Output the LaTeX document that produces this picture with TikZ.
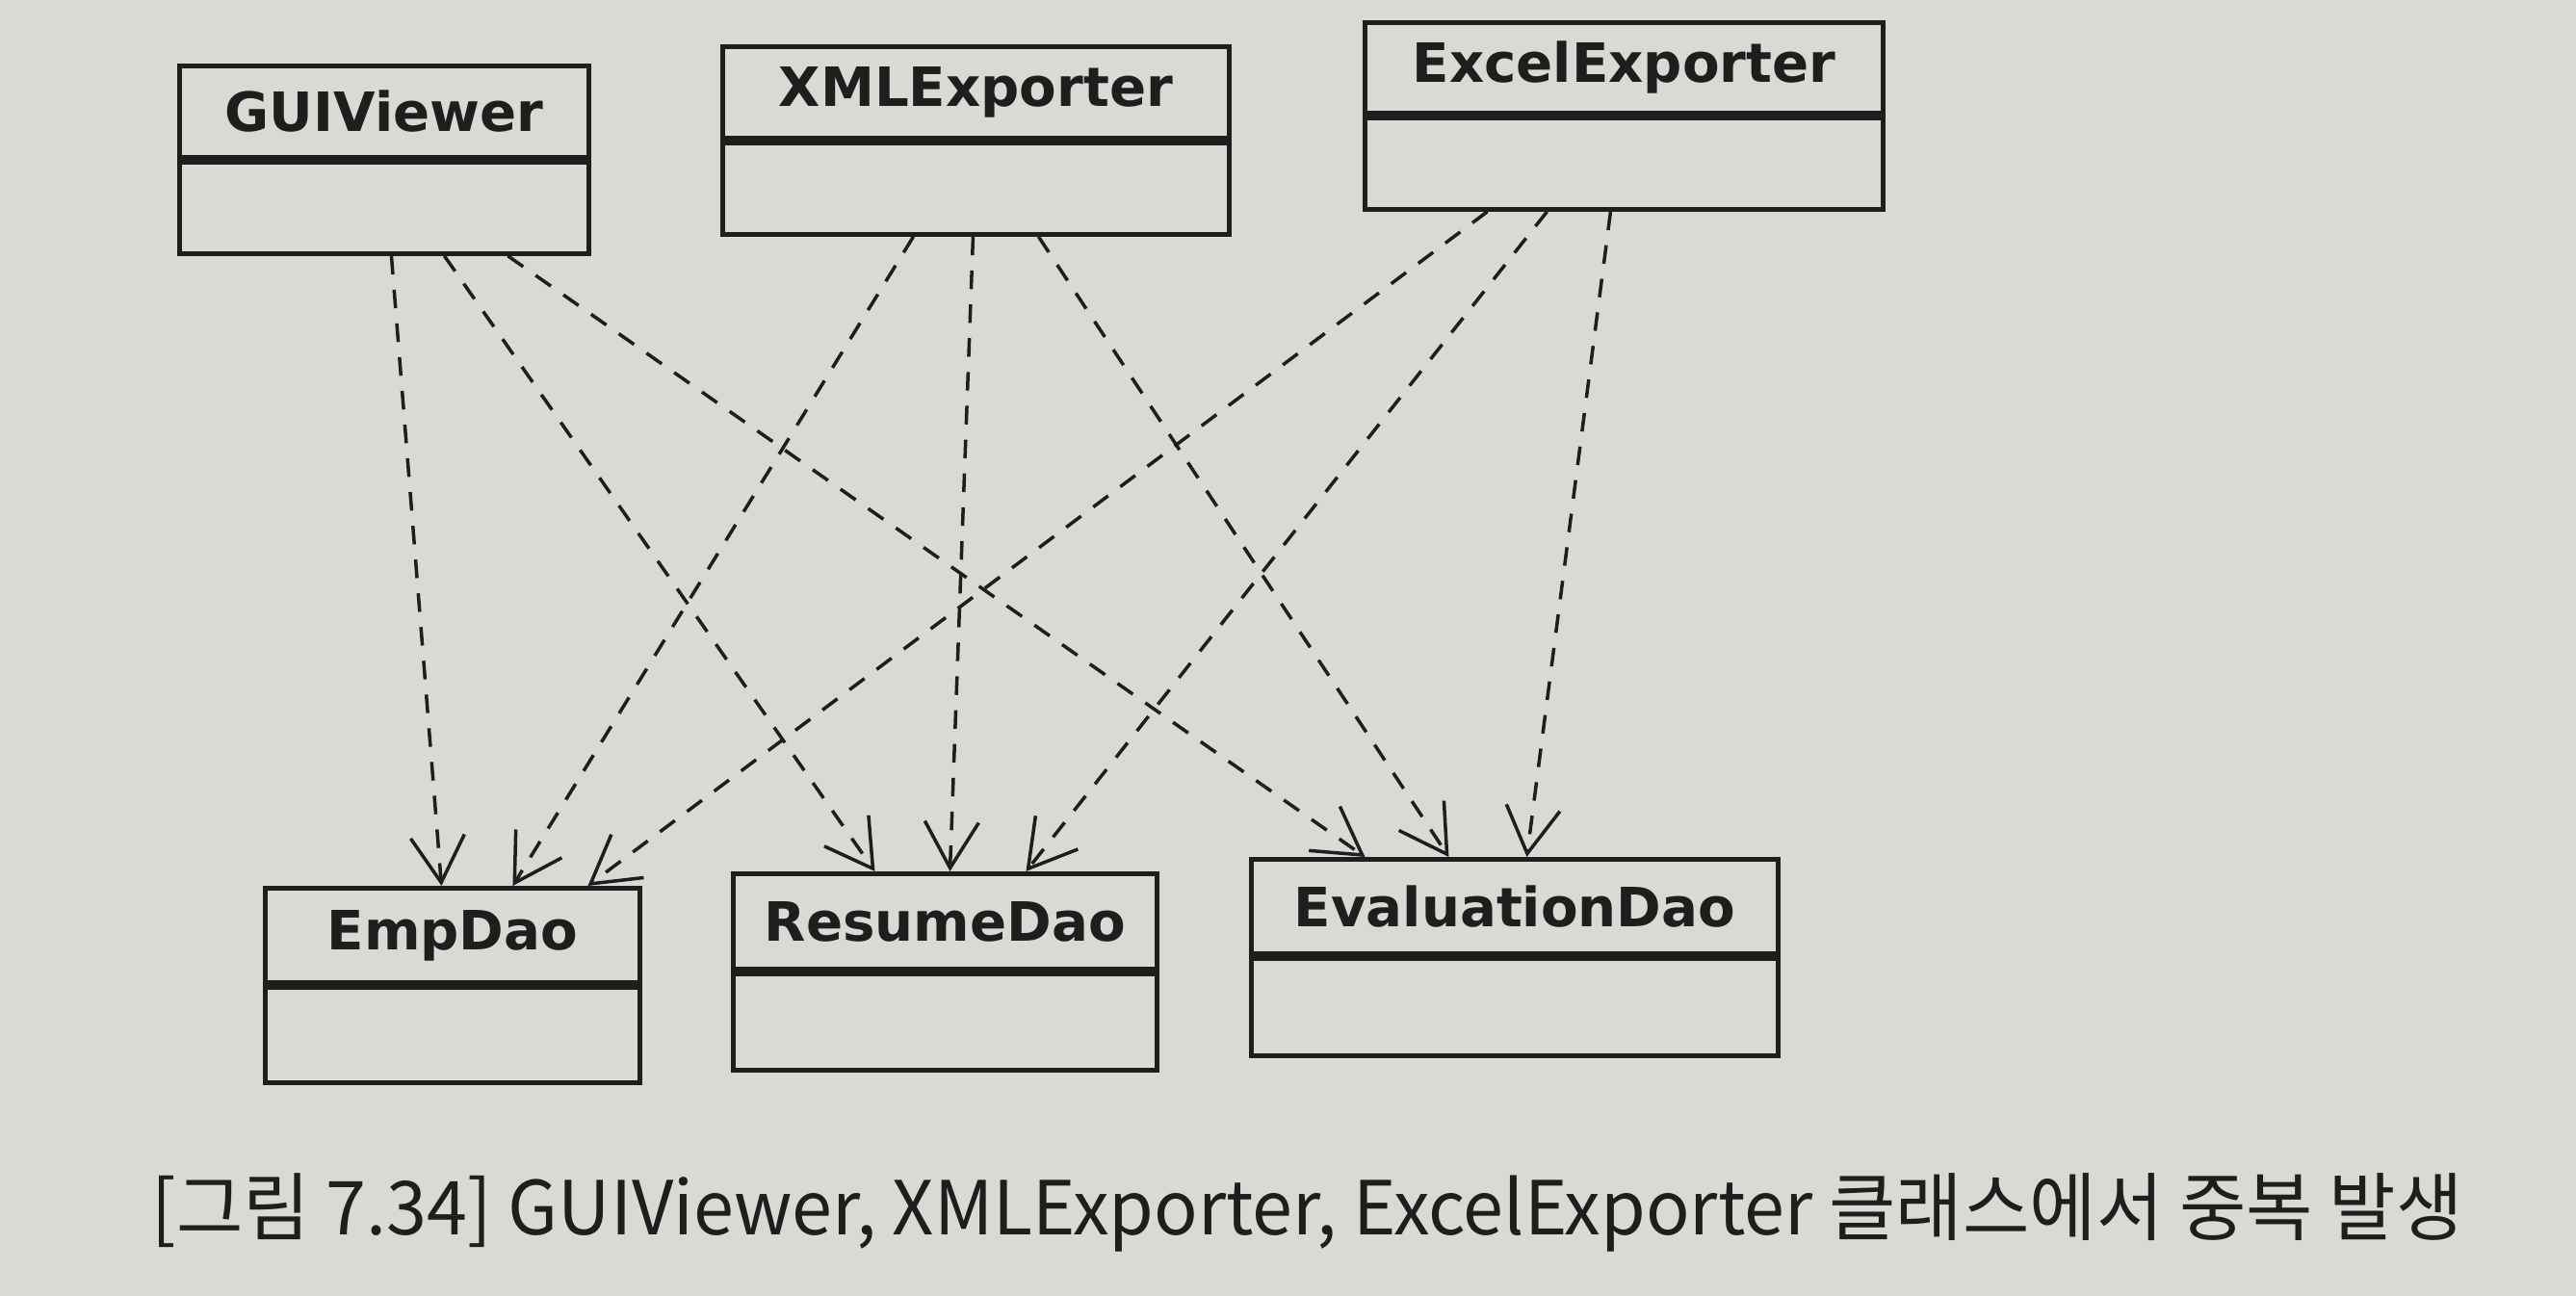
\documentclass[tikz,border=0pt]{standalone}
\usepackage{fontspec}
\usepackage{graphicx}
\setmainfont{DejaVu Sans}
\newfontfamily\titlefont{DejaVu Sans}
\newfontfamily\capfont{Noto Sans CJK KR}
\usetikzlibrary{arrows.meta}
\definecolor{paper}{RGB}{218,218,213}
\definecolor{ink}{RGB}{30,30,30}
\tikzset{
  ctitle/.style={draw=ink, line width=1.4pt, inner sep=0pt, anchor=north west,
    font=\titlefont\fontsize{16}{18}\selectfont\bfseries, text=ink},
  cbody/.style={draw=ink, line width=1.4pt, inner sep=0pt, anchor=north west},
  dep/.style={draw=ink, line width=1pt, dash pattern=on 5.5pt off 4.5pt,
    -{Straight Barb[length=4.8mm,width=5.6mm,line width=1pt]}}
}
\begin{document}
\begin{tikzpicture}
\fill[paper] (0,0) rectangle (26.75,-13.46);
\useasboundingbox (0,0) rectangle (26.75,-13.46);

% top classes
\node[ctitle, minimum width=4.25cm, minimum height=0.95cm] (gui) at (1.84,-0.66) {GUIViewer};
\node[cbody, minimum width=4.25cm, minimum height=0.95cm] (guib) at (gui.south west) {};
\node[ctitle, minimum width=5.26cm, minimum height=0.95cm] (xml) at (7.48,-0.46) {XMLExporter};
\node[cbody, minimum width=5.26cm, minimum height=0.95cm] (xmlb) at (xml.south west) {};
\node[ctitle, minimum width=5.38cm, minimum height=0.94cm] (xls) at (14.15,-0.21) {ExcelExporter};
\node[cbody, minimum width=5.38cm, minimum height=0.95cm] (xlsb) at (xls.south west) {};

% bottom classes
\node[ctitle, minimum width=3.89cm, minimum height=0.98cm] (emp) at (2.73,-9.20) {EmpDao};
\node[cbody, minimum width=3.89cm, minimum height=0.99cm] (empb) at (emp.south west) {};
\node[ctitle, minimum width=4.40cm, minimum height=0.99cm] (res) at (7.59,-9.05) {ResumeDao};
\node[cbody, minimum width=4.40cm, minimum height=1.00cm] (resb) at (res.south west) {};
\node[ctitle, minimum width=5.47cm, minimum height=0.98cm] (eva) at (12.97,-8.90) {EvaluationDao};
\node[cbody, minimum width=5.47cm, minimum height=1.01cm] (evab) at (eva.south west) {};

% dependencies
\draw[dep] ([xshift=0.075cm]guib.south) -- ([xshift=-0.115cm]emp.north);
\draw[dep] ([xshift=0.625cm]guib.south) -- ([xshift=-0.73cm]res.north);
\draw[dep] ([xshift=1.285cm]guib.south) -- ([xshift=-1.555cm]eva.north);

\draw[dep] ([xshift=-0.65cm]xmlb.south) -- ([xshift=0.625cm]emp.north);
\draw[dep] ([xshift=-0.03cm]xmlb.south) -- ([xshift=0.05cm]res.north);
\draw[dep] ([xshift=0.65cm]xmlb.south) -- ([xshift=-0.685cm]eva.north);

\draw[dep] ([xshift=-1.42cm]xlsb.south) -- ([xshift=1.405cm]emp.north);
\draw[dep] ([xshift=-0.80cm]xlsb.south) -- ([xshift=0.84cm]res.north);
\draw[dep] ([xshift=-0.14cm]xlsb.south) -- ([xshift=0.125cm]eva.north);

% caption
\node[anchor=base west, inner sep=0pt, text=ink, font=\capfont\fontsize{22}{26}\selectfont] (cap) at (1.57,-12.82)
  {\resizebox{24.0cm}{\height}{[그림 7.34] GUIViewer, XMLExporter, ExcelExporter 클래스에서 중복 발생}};
\end{tikzpicture}
\end{document}
